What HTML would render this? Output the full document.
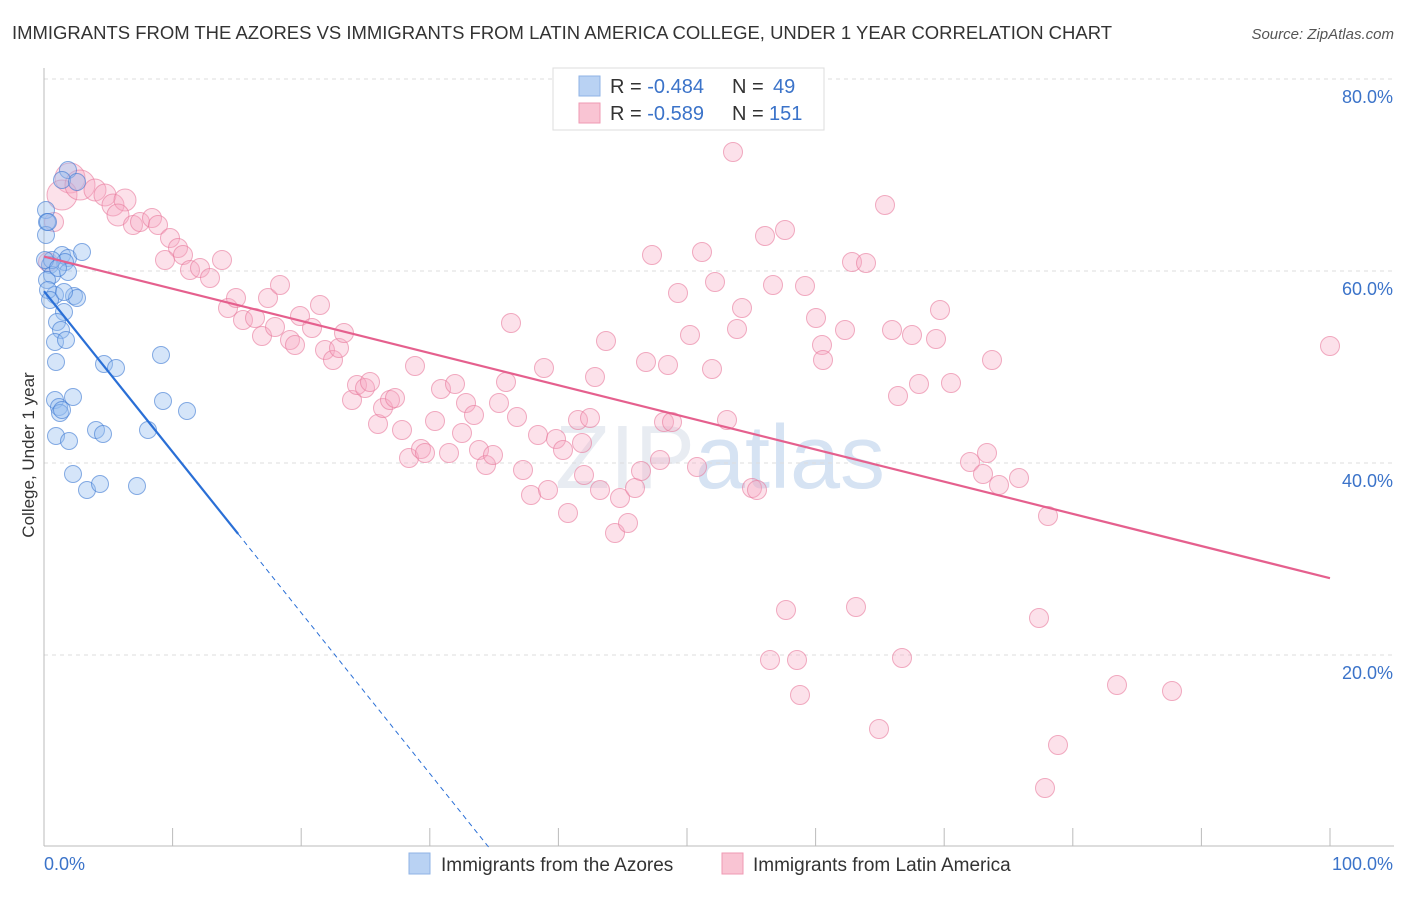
<!DOCTYPE html>
<html><head><meta charset="utf-8"><style>
body{margin:0;background:#fff;font-family:"Liberation Sans",sans-serif;}
svg text{font-family:"Liberation Sans",sans-serif;}
</style></head><body>
<svg id="chart" width="1406" height="892">
<text x="12" y="39" font-size="18.5" fill="#333" textLength="1100" lengthAdjust="spacingAndGlyphs">IMMIGRANTS FROM THE AZORES VS IMMIGRANTS FROM LATIN AMERICA COLLEGE, UNDER 1 YEAR CORRELATION CHART</text>
<text x="1394" y="39" font-size="15" fill="#555" text-anchor="end" font-style="italic">Source: ZipAtlas.com</text>
<text x="720" y="488" font-size="90" fill="#e8ecf2" text-anchor="middle" font-family="Liberation Serif">ZIP<tspan fill="#d6e3f3" font-family="Liberation Sans">atlas</tspan></text>
<g id="grid"></g><g id="axes"></g><g id="pts"></g><g id="trend"></g>
<text transform="translate(34,455) rotate(-90)" font-size="17" fill="#333" text-anchor="middle">College, Under 1 year</text>
<g>
<rect x="553" y="68" width="271" height="62" fill="#fff" stroke="#ddd"/>
<rect x="579" y="76" width="21" height="20" fill="#b9d2f3" stroke="#8fb3e6"/>
<rect x="579" y="103" width="21" height="20" fill="#f9c4d3" stroke="#ef9ab3"/>
<text x="610" y="93" font-size="20" fill="#333">R = <tspan fill="#3b73c9">-0.484</tspan><tspan x="732">N = </tspan><tspan fill="#3b73c9" x="773">49</tspan></text>
<text x="610" y="120" font-size="20" fill="#333">R = <tspan fill="#3b73c9">-0.589</tspan><tspan x="732">N = </tspan><tspan fill="#3b73c9" x="769">151</tspan></text>
</g>
<g>
<rect x="409" y="853" width="21" height="21" fill="#b9d2f3" stroke="#8fb3e6"/>
<text x="441" y="871" font-size="19" fill="#333">Immigrants from the Azores</text>
<rect x="722" y="853" width="21" height="21" fill="#f9c4d3" stroke="#ef9ab3"/>
<text x="753" y="871" font-size="19" fill="#333">Immigrants from Latin America</text>
</g>
</svg>
<script>
const yTicks=[20,40,60,80];
const xTickLabels=["0.0%","100.0%"];
const bluePx=[[68,170],[62,180],[77,182],[46,210],[47,222],[46,235],[62,255],[68,258],[82,252],[65,262],[50,265],[52,275],[47,280],[68,272],[55,295],[74,296],[77,298],[64,312],[57,322],[61,330],[55,342],[66,340],[56,362],[104,364],[116,368],[161,355],[55,400],[73,397],[59,407],[60,413],[56,436],[69,441],[96,430],[103,434],[148,430],[163,401],[187,411],[73,474],[87,490],[100,484],[137,486],[52,260],[48,290],[50,300],[45,260],[58,268],[64,292],[48,222],[62,410]];
const pinkPx=[[70,178],[62,195],[80,185],[95,190],[105,195],[113,205],[125,200],[118,215],[133,225],[140,222],[152,218],[158,225],[170,238],[178,248],[165,260],[183,255],[190,270],[200,268],[210,278],[222,260],[228,308],[236,298],[243,320],[255,318],[262,336],[268,298],[275,327],[280,285],[290,340],[295,345],[300,316],[312,328],[320,305],[325,350],[333,360],[339,348],[344,333],[352,400],[357,385],[365,388],[370,382],[378,424],[383,408],[390,400],[395,398],[402,430],[409,458],[415,366],[421,449],[425,453],[435,421],[441,389],[449,453],[455,384],[462,433],[466,403],[474,415],[479,450],[486,465],[493,455],[499,403],[506,382],[511,323],[517,417],[523,470],[531,495],[538,435],[544,368],[548,490],[556,439],[563,450],[568,513],[578,420],[582,443],[590,418],[595,377],[600,490],[606,341],[615,533],[620,498],[628,523],[635,488],[641,471],[646,362],[652,255],[664,422],[668,365],[660,460],[678,293],[690,335],[697,467],[702,252],[712,369],[715,282],[727,420],[733,152],[737,329],[742,308],[752,488],[757,490],[765,236],[773,285],[785,230],[786,610],[797,660],[800,695],[805,286],[816,318],[822,345],[823,360],[845,330],[852,262],[856,607],[866,263],[879,729],[885,205],[892,330],[898,396],[902,658],[912,335],[919,384],[940,310],[936,339],[951,383],[992,360],[970,462],[983,474],[987,453],[999,485],[1019,478],[1039,618],[1048,516],[1045,788],[1058,745],[1117,685],[1172,691],[1330,346],[770,660],[54,222],[48,262],[672,422],[584,475]];
const blueTrend=[57.9,-1.675];
const pinkTrend=[61.5,-0.335];
const X=v=>44+v*12.86, Y=v=>847-v*9.6;
const iX=p=>(p-44)/12.86, iY=p=>(847-p)/9.6;
const blueVals=bluePx.map(p=>[iX(p[0]),iY(p[1])]);
const pinkVals=pinkPx.map(p=>[iX(p[0]),iY(p[1])]);
const NS="http://www.w3.org/2000/svg";
function mk(t,a,parent){const e=document.createElementNS(NS,t);for(const k in a)e.setAttribute(k,a[k]);document.getElementById(parent).appendChild(e);return e;}
yTicks.forEach(v=>{
 const l=mk('line',{x1:44,x2:1394,y1:Y(v),y2:Y(v),stroke:'#ddd','stroke-dasharray':'4,4'},'grid');
 
 
 const t=mk('text',{x:1393,y:Y(v)+24,'font-size':18,fill:'#3b73c9','text-anchor':'end'},'grid');
 t.textContent=v.toFixed(1)+'%';
 
 
});
const ax=mk('line',{x1:44,x2:44,y1:68,y2:846,stroke:'#bbb'},'axes');


const bx=mk('line',{x1:44,x2:1394,y1:846,y2:846,stroke:'#bbb'},'axes');


for(let i=0;i<=10;i++){
 const tk=mk('line',{x1:X(i*10),x2:X(i*10),y1:828,y2:846,stroke:'#bbb'},'axes');
 
 
}
xTickLabels.forEach((s,i)=>{
 const t=mk('text',{x:i?1393:44,y:870,'font-size':18,fill:'#3b73c9','text-anchor':i?'end':'start'},'axes');
 t.textContent=s;
 
 
});
pinkVals.forEach((d,i)=>{
 const r=i<3?15:(i<8?11:9.5);
 const c=mk('circle',{cx:X(d[0]),cy:Y(d[1]),r:r,fill:'rgba(246,170,195,0.35)',stroke:'rgba(232,120,155,0.6)','stroke-width':1},'pts');
 
 
});
blueVals.forEach(d=>{
 const c=mk('circle',{cx:X(d[0]),cy:Y(d[1]),r:8.5,fill:'rgba(150,190,240,0.4)',stroke:'rgba(60,120,210,0.6)','stroke-width':1},'pts');
 
 
});
const pl=mk('line',{x1:X(0),y1:Y(pinkTrend[0]),x2:X(100),y2:Y(pinkTrend[0]+pinkTrend[1]*100),stroke:'#e5608e','stroke-width':2.2},'trend');


const bEnd=15.1, bZero=-blueTrend[0]/blueTrend[1];
const bl=mk('line',{x1:X(0),y1:Y(blueTrend[0]),x2:X(bEnd),y2:Y(blueTrend[0]+blueTrend[1]*bEnd),stroke:'#2a6fd6','stroke-width':2.2},'trend');


const bd=mk('line',{x1:X(bEnd),y1:Y(blueTrend[0]+blueTrend[1]*bEnd),x2:X(bZero),y2:Y(0),stroke:'#2a6fd6','stroke-width':1,'stroke-dasharray':'5,4'},'trend');


</script>
</body></html>
